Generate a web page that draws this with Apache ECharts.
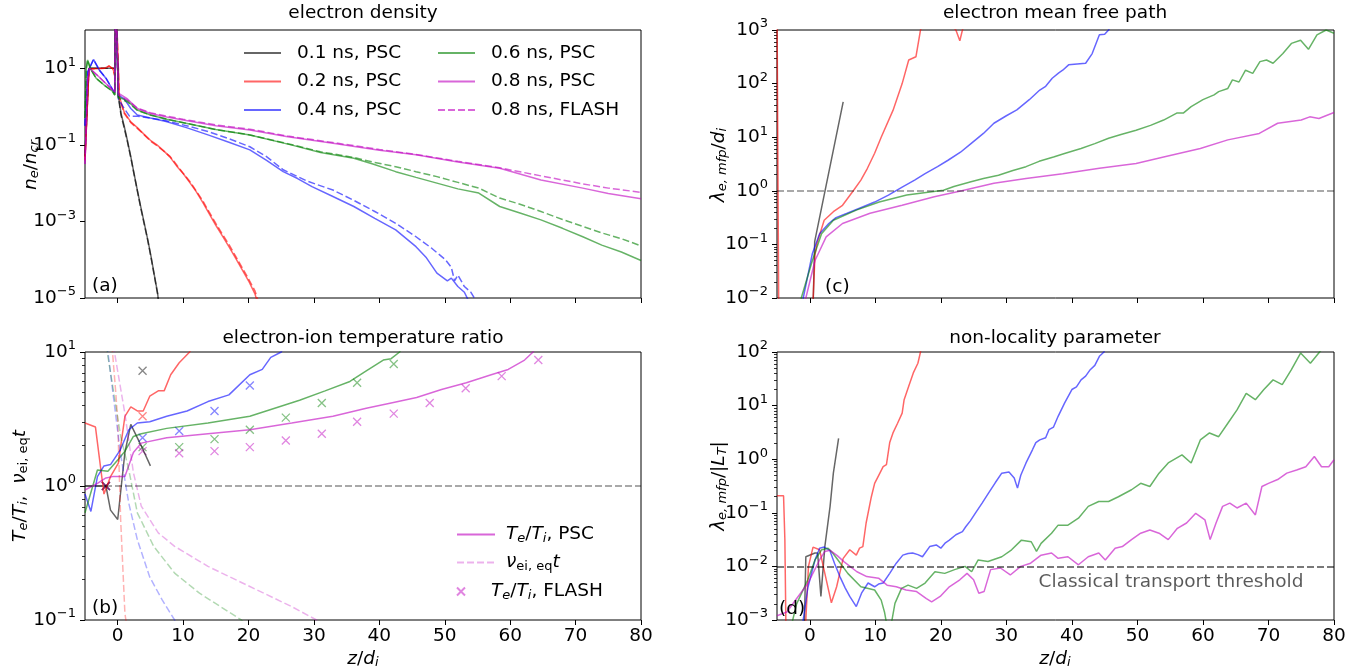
<!DOCTYPE html>
<html><head><meta charset="utf-8">
<script src="https://cdn.jsdelivr.net/npm/echarts@6/dist/echarts.min.js"></script>
<style>html,body{margin:0;padding:0;background:#fff}#c{width:1365px;height:672px}</style>
</head><body><div id="c"></div>
<script>
// All y values are stored as log10 of the plotted quantity; the y axes are
// linear in log10 units and are labelled as powers of ten.
// ---------- tick values ----------
const zTicks = [0, 10, 20, 30, 40, 50, 60, 70, 80];
const densTicks = [-5, -3, -1, 1];          // 1e-5 ... 1e1
const ratioTicks = [-1, 0, 1];              // 1e-1 ... 1e1
const mfpTicks = [-2, -1, 0, 1, 2, 3];      // 1e-2 ... 1e3
const nonlocTicks = [-3, -2, -1, 0, 1, 2];  // 1e-3 ... 1e2

// ---------- (a) electron density n_e/n_cr : [z/d_i, log10(value)] ----------
const dens01_PSC = [[-5,-1.3],[-4.4,1.0],[-0.45,1.0],[-0.3,3],[-0.1,3],[0.1,0.3],[0.5,-0.17],[1.0,-0.52],[1.5,-0.9],[2.0,-1.31],[2.5,-1.75],[3.0,-2.18],[3.5,-2.6],[4.05,-3.04],[4.6,-3.48],[5.1,-3.92],[5.6,-4.4],[6.1,-4.87],[6.3,-5.2]];
const dens01_FLASH = [[-5,-1.3],[-4.4,1.0],[-0.45,1.0],[-0.3,3],[-0.1,3],[0.1,0.25],[0.5,-0.22],[1.0,-0.56],[1.5,-0.93],[2.0,-1.33],[2.5,-1.77],[3.0,-2.2],[3.5,-2.63],[4.05,-3.07],[4.6,-3.5],[5.1,-3.95],[5.6,-4.42],[6.1,-4.9],[6.3,-5.2]];
const dens02_PSC = [[-5,-1.4],[-4.4,0.98],[-2.0,1.0],[-1.3,1.06],[-0.7,0.98],[-0.45,0.8],[-0.3,3],[-0.1,3],[0.25,0.26],[1.0,-0.15],[2.0,-0.4],[3.0,-0.55],[4.0,-0.72],[5.0,-0.88],[6.0,-1.0],[7.0,-1.15],[8.0,-1.32],[9.0,-1.55],[10.0,-1.75],[11.0,-1.98],[12.0,-2.22],[13.0,-2.5],[14.0,-2.8],[15.0,-3.1],[16.0,-3.38],[17.0,-3.66],[18.0,-3.95],[19.0,-4.25],[20.0,-4.55],[21.0,-4.9],[21.5,-5.2]];
const dens02_FLASH = [[-5,-1.4],[-4.4,0.98],[-2.0,1.0],[-1.3,1.06],[-0.7,0.98],[-0.45,0.8],[-0.3,3],[-0.1,3],[0.25,0.22],[1.0,-0.18],[2.0,-0.42],[3.0,-0.57],[4.0,-0.73],[5.0,-0.9],[6.0,-1.02],[7.0,-1.16],[8.0,-1.3],[9.0,-1.52],[10.0,-1.74],[11.0,-1.95],[12.0,-2.2],[13.0,-2.46],[14.0,-2.76],[15.0,-3.05],[16.0,-3.33],[17.0,-3.6],[18.0,-3.9],[19.0,-4.2],[20.0,-4.5],[21.0,-4.82],[21.7,-5.2]];
const dens04_PSC = [[-5,-0.5],[-4.6,0.9],[-3.7,1.23],[-2.8,0.95],[-1.8,0.74],[-0.8,0.45],[-0.45,0.35],[-0.3,3],[-0.1,3],[0.1,0.3],[1.0,0.2],[2.0,-0.05],[3.0,-0.22],[5.0,-0.3],[7.4,-0.39],[10.5,-0.55],[13.8,-0.74],[17,-0.93],[20.2,-1.13],[22.7,-1.4],[25.3,-1.7],[27.5,-1.88],[29.7,-2.09],[32.9,-2.35],[36.1,-2.61],[39.3,-2.92],[42.5,-3.22],[45.6,-3.66],[47.2,-3.95],[48.8,-4.35],[50.4,-4.55],[51,-4.48],[52,-4.7],[53,-4.85],[54,-5.2]];
const dens04_FLASH = [[-5,-0.5],[-4.6,0.9],[-3.7,1.23],[-2.8,0.95],[-1.8,0.74],[-0.8,0.45],[-0.45,0.35],[-0.3,3],[-0.1,3],[0.1,0.2],[1.0,-0.05],[1.8,-0.25],[3.0,-0.25],[5.0,-0.3],[7.4,-0.37],[10.5,-0.5],[13.8,-0.65],[17,-0.84],[20.2,-1.05],[22.7,-1.3],[25.3,-1.65],[29,-1.95],[32.9,-2.18],[36.1,-2.45],[39.3,-2.74],[42.5,-3.05],[45.6,-3.4],[48,-3.7],[50.1,-4.0],[51,-4.2],[51.5,-4.55],[52,-4.4],[53,-4.7],[54,-4.85],[55.2,-5.2]];
const dens06_PSC = [[-5,-0.3],[-4.8,1.0],[-4.6,1.22],[-4.2,1.0],[-3.3,0.74],[-2,0.55],[-0.8,0.4],[-0.45,0.3],[-0.3,3],[-0.1,3],[0.1,0.25],[1.5,0.15],[3.0,-0.09],[5,-0.22],[7.5,-0.33],[10.6,-0.44],[15,-0.6],[20.2,-0.74],[26.5,-1.0],[31,-1.2],[36.1,-1.35],[39,-1.5],[42.5,-1.7],[45.6,-1.85],[48.8,-2.0],[52,-2.15],[55.2,-2.26],[58.4,-2.61],[61.5,-2.78],[64.7,-2.96],[68,-3.18],[71.1,-3.4],[74,-3.62],[77,-3.8],[80,-4.02]];
const dens06_FLASH = [[-5,-0.3],[-4.8,1.0],[-4.6,1.22],[-4.2,1.0],[-3.3,0.74],[-2,0.55],[-0.8,0.4],[-0.45,0.3],[-0.3,3],[-0.1,3],[0.1,0.22],[1.5,0.12],[3.0,-0.1],[5,-0.22],[7.5,-0.33],[10.6,-0.44],[15,-0.6],[20.2,-0.74],[26.5,-0.99],[31,-1.18],[36.1,-1.33],[39,-1.45],[42.5,-1.57],[45.6,-1.7],[48.8,-1.83],[52,-1.98],[55.2,-2.13],[58.4,-2.39],[61.5,-2.55],[64.7,-2.74],[68,-2.95],[71.1,-3.13],[74,-3.3],[77,-3.45],[80,-3.64]];
const dens08_PSC = [[-5,-1.5],[-4.6,0.7],[-4.3,1.0],[-3,0.8],[-1.5,0.55],[-0.45,0.38],[-0.3,3],[-0.1,3],[0.1,0.35],[1.5,0.2],[3.0,-0.05],[5,-0.18],[7.5,-0.27],[10,-0.35],[15,-0.5],[20.2,-0.61],[26,-0.79],[32.9,-0.96],[40,-1.14],[45.6,-1.26],[52,-1.45],[58.4,-1.61],[64.7,-1.92],[71.1,-2.13],[75,-2.27],[80,-2.41]];
const dens08_FLASH = [[-5,-1.5],[-4.6,0.7],[-4.3,1.0],[-3,0.8],[-1.5,0.55],[-0.45,0.38],[-0.3,3],[-0.1,3],[0.1,0.3],[1.5,0.17],[3.0,-0.04],[5,-0.16],[7.5,-0.25],[10,-0.33],[15,-0.48],[20.2,-0.59],[26,-0.77],[32.9,-0.94],[40,-1.12],[45.6,-1.25],[52,-1.43],[58.4,-1.6],[64.7,-1.81],[71.1,-2.02],[75,-2.13],[80,-2.24]];

// ---------- (c) electron mean free path : [z, log10] ----------
const mfp01 = [[0.5,-2.2],[0.75,-0.95],[5.1,1.66]];
const mfp02 = [[-5.0,3.5],[-4.85,3.5],[-4.7,-3],[0.3,-3],[0.45,-2.2],[0.8,-1.2],[1.1,-0.98],[2.2,-0.55],[3.6,-0.39],[5,-0.27],[6.7,0.01],[7.8,0.2],[8.8,0.42],[9.9,0.7],[10.9,1.0],[12.7,1.5],[14.1,2.0],[15.1,2.44],[16.2,2.5],[16.9,3.0],[18,3.3],[20,3.4],[21.5,3.1],[22.3,3.0],[22.9,2.8],[23.4,3.05],[24,3.2],[26,3.5],[30,3.6]];
const mfp04 = [[-1.5,-2.6],[-1.0,-2.0],[0.4,-1.17],[1.5,-0.8],[2.9,-0.61],[4,-0.5],[5.7,-0.42],[7.5,-0.33],[9.9,-0.21],[12,-0.08],[14.1,0.07],[16,0.2],[17.6,0.32],[19.5,0.45],[21.1,0.57],[23,0.72],[24.6,0.88],[26.5,1.07],[28.1,1.26],[30,1.4],[31.6,1.51],[33.5,1.7],[35.1,1.88],[36,1.95],[37,2.1],[38,2.2],[38.6,2.25],[39.5,2.35],[42.1,2.38],[43.1,2.56],[44.2,2.91],[45,2.92],[45.6,3.0],[46.5,3.2]];
const mfp06 = [[-1.8,-2.5],[-1.3,-2.0],[0.4,-1.3],[1.8,-0.8],[3.6,-0.55],[7.1,-0.36],[10.6,-0.21],[14.8,-0.08],[20.4,0.01],[22,0.08],[24.6,0.17],[26.5,0.23],[28.8,0.29],[31,0.38],[33,0.45],[35,0.55],[37.2,0.63],[39,0.7],[41.4,0.79],[43.5,0.88],[45.6,0.98],[47.5,1.05],[49.8,1.13],[52,1.22],[54,1.32],[56,1.45],[57,1.45],[58.2,1.57],[60,1.7],[61.7,1.79],[62.4,1.85],[63.8,1.91],[64.5,2.07],[65.5,2.03],[66.5,2.25],[67.6,2.19],[68.7,2.41],[69.7,2.44],[70.7,2.38],[72.2,2.56],[73.5,2.75],[74.9,2.81],[76.1,2.64],[77.4,2.91],[78.8,3.0],[80,2.94]];
const mfp08 = [[-1.0,-2.5],[-0.6,-2.0],[0.8,-1.3],[2.5,-0.86],[5,-0.61],[9.2,-0.42],[14.1,-0.27],[19,-0.11],[23.2,0.0],[28.1,0.14],[33,0.23],[38.6,0.32],[44.2,0.42],[49.8,0.51],[54,0.63],[59.6,0.79],[63.8,0.95],[68.6,1.07],[71.4,1.26],[75,1.32],[76.3,1.38],[77.7,1.35],[80,1.46]];

// ---------- (b) T_e/T_i (PSC), nu_ei,eq t, T_e/T_i (FLASH) : [z, log10] ----------
const ratio01_PSC = [[-5,0],[-1.8,0],[-1.1,-0.18],[0,-0.25],[1.1,0.25],[2.0,0.46],[3.6,0.3],[5.0,0.15]];
const ratio02_PSC = [[-5,0.47],[-3.4,0.44],[-2.1,-0.06],[-1.1,0.07],[0.1,0.17],[1.1,0.52],[2.0,0.59],[3.0,0.56],[3.9,0.56],[4.9,0.67],[6.2,0.71],[7.1,0.71],[8.1,0.83],[9.4,0.92],[11,1.0],[12,1.1]];
const ratio04_PSC = [[-5,-0.06],[-4.1,-0.19],[-3.1,0.07],[-2.1,0.15],[-1.1,0.16],[0.4,0.27],[1.7,0.42],[3.0,0.47],[4.9,0.48],[7.5,0.52],[10.6,0.56],[13.8,0.63],[17,0.68],[20.2,0.83],[22.1,0.87],[23.4,0.96],[25,1.0],[26,1.1]];
const ratio06_PSC = [[-5,-0.2],[-3.1,0.12],[-1.5,0.11],[0.1,0.2],[1.1,0.26],[2.4,0.37],[3.6,0.39],[7.5,0.43],[13.8,0.47],[20.2,0.52],[24,0.58],[27.8,0.64],[31.7,0.71],[35.5,0.78],[38,0.86],[40.6,0.94],[41.8,0.95],[43.1,1.0],[44,1.1]];
const ratio08_PSC = [[-5,-0.03],[-3.1,0.02],[-1.8,0.06],[-0.8,0.07],[1.1,0.07],[2.4,0.25],[3.6,0.32],[7.5,0.36],[13.8,0.39],[20.2,0.42],[26.6,0.47],[32.9,0.52],[38,0.58],[41.8,0.62],[45.7,0.66],[49.5,0.72],[53.3,0.77],[57.1,0.83],[59.7,0.87],[62.2,0.94],[63.5,1.0],[64.5,1.1]];
const nuT02 = [[-1.0,1.2],[-0.8,1.0],[-0.3,0.7],[0,0.49],[0.45,-0.25],[1.1,-0.95],[1.4,-1.05]];
const nuT04 = [[-1.8,1.2],[-1.5,1.0],[0.4,0.25],[1.7,-0.13],[3.0,-0.4],[4.9,-0.68],[6.8,-0.85],[8.7,-1.0],[9,-1.05]];
const nuT06 = [[-1.9,1.2],[-1.6,1.0],[0.45,0.37],[1.7,0.12],[3,-0.2],[5.5,-0.45],[8.7,-0.65],[12.5,-0.8],[15.7,-0.9],[18.9,-1.0],[19.5,-1.03]];
const nuT08 = [[-0.8,1.2],[-0.5,1.0],[1.1,0.54],[2.4,0.1],[3.6,-0.15],[6.2,-0.35],[8.7,-0.45],[13.8,-0.6],[20.2,-0.75],[26.6,-0.9],[30.4,-1.0],[31,-1.03]];
const ratio01_FLASH = [[-1.8,0],[3.8,0.86]];
const ratio02_FLASH = [[-1.8,0],[3.8,0.52]];
const ratio04_FLASH = [[-1.8,0],[3.8,0.36],[9.4,0.41],[14.8,0.56],[20.2,0.75]];
const ratio06_FLASH = [[-1.8,0],[3.8,0.29],[9.4,0.29],[14.8,0.35],[20.2,0.42],[25.7,0.51],[31.2,0.62],[36.6,0.77],[42.2,0.91]];
const ratio08_FLASH = [[-1.8,0],[3.8,0.26],[9.4,0.245],[14.8,0.26],[20.2,0.29],[25.7,0.34],[31.2,0.39],[36.6,0.48],[42.2,0.54],[47.7,0.62],[53.2,0.73],[58.7,0.82],[64.3,0.94]];

// ---------- (d) non-locality parameter : [z, log10] ----------
const nl01 = [[-0.9,-3.5],[-0.6,-1.82],[0.8,-1.75],[1.2,-1.75],[1.7,-2.56],[2.3,-1.63],[3.1,-0.88],[3.6,-0.26],[4.4,0.39]];
const nl02 = [[-5,-0.68],[-4.0,-0.68],[-3.8,-1.5],[-3.6,-3.5],[-0.8,-3.5],[-0.6,-3.0],[-0.2,-2.0],[0.5,-1.64],[1.5,-1.69],[2.3,-2.13],[3.3,-2.68],[4.1,-2.38],[5.1,-1.85],[6.1,-1.69],[7.1,-1.79],[7.6,-1.66],[8.1,-1.63],[8.6,-1.19],[9.4,-0.7],[9.9,-0.45],[10.7,-0.26],[11.2,-0.14],[11.7,-0.1],[12.2,0.31],[12.7,0.49],[13.4,0.67],[14.1,0.86],[14.4,1.11],[15.1,1.36],[15.8,1.61],[16.5,1.79],[16.9,2.0],[17.3,2.3]];
const nl04 = [[-2,-3.5],[-1.0,-3.0],[-0.3,-2.4],[0.8,-1.88],[1.5,-1.66],[2.2,-1.64],[3.05,-1.7],[3.8,-1.95],[4.6,-2.19],[5.4,-2.4],[6.1,-2.56],[7.1,-2.75],[7.9,-2.5],[8.9,-2.31],[9.9,-2.38],[10.5,-2.33],[11.2,-2.31],[12.2,-2.13],[13.2,-1.94],[14.2,-1.79],[15.0,-1.76],[15.7,-1.75],[16.5,-1.78],[17.2,-1.82],[18.3,-1.63],[19.3,-1.6],[20.0,-1.66],[20.7,-1.56],[21.3,-1.51],[22.3,-1.41],[23.3,-1.35],[23.8,-1.26],[24.5,-1.15],[25.3,-1.0],[26.3,-0.82],[27.3,-0.63],[28.3,-0.44],[29.3,-0.26],[30.4,-0.24],[31.2,-0.35],[31.7,-0.54],[32.2,-0.3],[33.0,-0.07],[34.0,0.18],[34.5,0.31],[35.1,0.36],[36.0,0.4],[36.5,0.55],[37.2,0.6],[37.9,0.8],[38.9,1.05],[40,1.3],[40.7,1.35],[41.4,1.48],[42.1,1.55],[42.8,1.67],[43.5,1.75],[44.2,1.92],[44.9,2.0],[45.3,2.2]];
const nl06 = [[-3,-3.2],[-2,-2.7],[-0.3,-2.25],[0.8,-1.88],[1.8,-1.69],[2.8,-1.66],[3.5,-1.75],[4.3,-1.88],[5.8,-2.13],[7.8,-2.38],[9.9,-2.44],[10.9,-2.63],[11.4,-2.85],[11.7,-3.05],[12.4,-3.1],[13.0,-2.69],[14.0,-2.41],[15.0,-2.35],[16.3,-2.41],[17.6,-2.31],[19.1,-2.1],[20.6,-2.13],[22.1,-2.06],[23.7,-2.0],[24.7,-2.1],[25.7,-1.88],[27.2,-1.91],[29.3,-1.82],[30.8,-1.69],[32.3,-1.51],[33.8,-1.54],[34.6,-1.72],[35.3,-1.57],[36.9,-1.38],[37.9,-1.23],[39.4,-1.23],[41.0,-1.1],[42.5,-0.88],[44.1,-0.79],[45.6,-0.79],[47.1,-0.7],[49.1,-0.57],[50.5,-0.45],[51.9,-0.51],[53.3,-0.26],[54.7,-0.07],[56.8,0.08],[58.2,-0.07],[59.6,0.36],[61,0.49],[62.4,0.42],[63.8,0.67],[65.2,0.92],[66.6,1.23],[68,1.11],[69.3,1.3],[70.7,1.48],[72.1,1.39],[73.5,1.67],[74.9,1.98],[76.4,1.79],[77.8,2.0],[78.5,2.1]];
const nl08 = [[-5,-2.92],[-3.5,-2.85],[-2,-2.6],[-0.3,-2.32],[1.5,-1.88],[2.3,-1.72],[3.1,-1.7],[4.2,-1.8],[5.2,-1.91],[7.2,-2.1],[8.7,-2.19],[10.5,-2.22],[11.8,-2.35],[13.2,-2.38],[14.7,-2.44],[16.3,-2.47],[17.8,-2.6],[18.6,-2.66],[19.9,-2.56],[21.3,-2.38],[22.9,-2.25],[24.0,-2.13],[25.0,-2.25],[25.8,-2.5],[26.6,-2.47],[27.6,-2.06],[29.1,-2.03],[30.6,-2.16],[32.2,-2.0],[33.7,-1.94],[35.3,-1.79],[36.9,-1.75],[37.9,-1.85],[39.4,-1.82],[41.0,-1.97],[42.5,-1.82],[44.1,-1.75],[45.1,-1.88],[46.6,-1.66],[47.7,-1.63],[49.1,-1.5],[50.5,-1.38],[51.9,-1.32],[53.3,-1.38],[54.7,-1.5],[56.1,-1.29],[57.5,-1.19],[58.9,-1.01],[60.3,-1.13],[61.1,-1.5],[62,-1.19],[63,-0.88],[64.1,-0.82],[65.2,-0.91],[66.6,-0.82],[68,-1.04],[69,-0.51],[70,-0.45],[71.4,-0.38],[72.8,-0.26],[74.3,-0.2],[75.7,-0.14],[77,0.05],[78.1,-0.14],[79.2,-0.14],[80,-0.01]];

// ---------- styling ----------
const FF = 'DejaVu Sans';
const FS = 18.5;
const COL = {k:'rgba(0,0,0,0.6)', r:'rgba(255,0,0,0.6)', b:'rgba(0,0,255,0.6)', g:'rgba(0,128,0,0.6)', m:'rgba(191,0,191,0.6)'};
const LIGHT = {k:'rgba(0,0,0,0.3)', r:'rgba(255,0,0,0.3)', b:'rgba(0,0,255,0.3)', g:'rgba(0,128,0,0.3)', m:'rgba(191,0,191,0.3)'};
const DASH = [7, 3];

const RICH = {
  n: {fontFamily: FF, fontSize: FS, lineHeight: 22},
  i: {fontFamily: FF, fontSize: FS, fontStyle: 'italic', lineHeight: 22},
  sb: {fontFamily: FF, fontSize: 13, fontStyle: 'italic', lineHeight: 14, padding: [8, 0, 0, 0]},
  sbn: {fontFamily: FF, fontSize: 13, lineHeight: 14, padding: [8, 0, 0, 0]},
  b: {fontFamily: FF, fontSize: FS, lineHeight: 22},
  s: {fontFamily: FF, fontSize: 13, lineHeight: 14, padding: [0, 0, 12, 0]}
};

function fmtExp(v) {
  const e = Math.round(v);
  return '{b|10}{s|' + (e < 0 ? '\u2212' + (-e) : '' + e) + '}';
}
// minor tick positions (log10 of 2..9 x 10^k) for decades k0..k1-1
function minors(k0, k1) {
  const o = [];
  for (let k = k0; k < k1; k++) for (let m = 2; m <= 9; m++) o.push(k + Math.log10(m));
  return o;
}

// grids: 0 = (a), 1 = (b), 2 = (c), 3 = (d)
const GRID = [
  {left: 85, top: 30, width: 556, height: 268},
  {left: 85, top: 352, width: 556, height: 268},
  {left: 777, top: 30, width: 557, height: 268},
  {left: 777, top: 352, width: 557, height: 268}
];
const grids = GRID.map(g => Object.assign({}, g, {show: true, borderColor: '#000', borderWidth: 1, backgroundColor: 'transparent'}));

const xAxes = [0, 1, 2, 3].map(gi => ({
  type: 'value', gridIndex: gi, min: -5, max: 80,
  axisLine: {show: false, onZero: false}, splitLine: {show: false},
  axisTick: {show: true, customValues: zTicks, length: 5, lineStyle: {color: '#000', width: 1}},
  axisLabel: {show: gi === 1 || gi === 3, customValues: zTicks, fontFamily: FF, fontSize: FS, color: '#000', margin: 7}
}));

function yMain(gi, min, max, ticks) {
  return {
    type: 'value', gridIndex: gi, min: min, max: max, position: 'left',
    axisLine: {show: false, onZero: false}, splitLine: {show: false},
    axisTick: {show: true, customValues: ticks, length: 5, lineStyle: {color: '#000', width: 1}},
    axisLabel: {customValues: ticks, margin: 9, color: '#000', formatter: fmtExp, rich: RICH}
  };
}
// second axis of a grid is placed on the right by ECharts; shift it back onto the left edge
function yMinor(gi, min, max, k0, k1) {
  return {
    type: 'value', gridIndex: gi, min: min, max: max, position: 'right', offset: -GRID[gi].width,
    axisLine: {show: false, onZero: false}, splitLine: {show: false},
    axisLabel: {show: false, customValues: minors(k0, k1)},
    axisTick: {show: true, inside: true, customValues: minors(k0, k1), length: 3, lineStyle: {color: '#000', width: 0.8}}
  };
}
const yAxes = [
  yMain(0, -5, 2, densTicks),
  yMain(1, -1, 1, ratioTicks),
  yMain(2, -2, 3, mfpTicks),
  yMain(3, -3, 2, nonlocTicks),
  yMinor(1, -1, 1, -1, 1),
  yMinor(2, -2, 3, -2, 3),
  yMinor(3, -3, 2, -3, 2)
];

function line(name, arr, color, gi, dashed, extra) {
  return Object.assign({
    type: 'line', name: name, xAxisIndex: gi, yAxisIndex: gi, data: arr,
    symbol: 'none', showSymbol: false, clip: true, silent: true,
    lineStyle: {color: color, width: 1.5, type: dashed ? DASH : 'solid'},
    itemStyle: {color: color}
  }, extra || {});
}
function marks(name, arr, color) {
  return {
    type: 'scatter', name: name, xAxisIndex: 1, yAxisIndex: 1, data: arr,
    symbol: 'path://M0,0L10,10M10,0L0,10', symbolSize: 8, silent: true,
    itemStyle: {color: 'rgba(0,0,0,0)', borderColor: color, borderWidth: 1.3}
  };
}
function hline(y, color) {
  return {silent: true, symbol: 'none', label: {show: false},
    lineStyle: {color: color, type: DASH, width: 1.5}, data: [{yAxis: y}]};
}

const series = [
  // (a)
  line('0.1 ns, PSC', dens01_PSC, COL.k, 0, false),
  line('a01F', dens01_FLASH, COL.k, 0, true),
  line('0.2 ns, PSC', dens02_PSC, COL.r, 0, false),
  line('a02F', dens02_FLASH, COL.r, 0, true),
  line('0.4 ns, PSC', dens04_PSC, COL.b, 0, false),
  line('a04F', dens04_FLASH, COL.b, 0, true),
  line('0.6 ns, PSC', dens06_PSC, COL.g, 0, false),
  line('a06F', dens06_FLASH, COL.g, 0, true),
  line('0.8 ns, PSC', dens08_PSC, COL.m, 0, false),
  line('0.8 ns, FLASH', dens08_FLASH, COL.m, 0, true),
  // (b)
  line('b01', ratio01_PSC, COL.k, 1, false, {markLine: hline(0, 'rgba(0,0,0,0.45)')}),
  line('b02', ratio02_PSC, COL.r, 1, false),
  line('b04', ratio04_PSC, COL.b, 1, false),
  line('b06', ratio06_PSC, COL.g, 1, false),
  line('bTePSC', ratio08_PSC, COL.m, 1, false),
  line('b02n', nuT02, LIGHT.r, 1, true),
  line('b04n', nuT04, LIGHT.b, 1, true),
  line('b06n', nuT06, LIGHT.g, 1, true),
  line('bNu', nuT08, LIGHT.m, 1, true),
  marks('b01x', ratio01_FLASH, COL.k),
  marks('b02x', ratio02_FLASH, COL.r),
  marks('b04x', ratio04_FLASH, COL.b),
  marks('b06x', ratio06_FLASH, COL.g),
  marks('bTeFLASH', ratio08_FLASH, COL.m),
  // (c)
  line('c01', mfp01, COL.k, 2, false, {markLine: hline(0, 'rgba(0,0,0,0.45)')}),
  line('c02', mfp02, COL.r, 2, false),
  line('c04', mfp04, COL.b, 2, false),
  line('c06', mfp06, COL.g, 2, false),
  line('c08', mfp08, COL.m, 2, false),
  // (d)
  line('d01', nl01, COL.k, 3, false, {markLine: hline(-2, 'rgba(0,0,0,0.7)')}),
  line('d02', nl02, COL.r, 3, false),
  line('d04', nl04, COL.b, 3, false),
  line('d06', nl06, COL.g, 3, false),
  line('d08', nl08, COL.m, 3, false)
];

const LEG_TEXT = {
  'bTePSC': '{i|T}{sb|e}{n|/}{i|T}{sb|i}{n|, PSC}',
  'bNu': '{i|\u03bd}{sbn|ei, eq}{i|t}',
  'bTeFLASH': '{i|T}{sb|e}{n|/}{i|T}{sb|i}{n|, FLASH}'
};
const HIDE_SYMBOL = {color: 'rgba(0,0,0,0)', borderWidth: 0, opacity: 0};
function legendBase(extra) {
  return Object.assign({
    orient: 'vertical', padding: 0, itemWidth: 37, itemHeight: 14, itemGap: 8.5, selectedMode: false,
    itemStyle: HIDE_SYMBOL,
    textStyle: {fontFamily: FF, fontSize: FS, color: '#000', lineHeight: 20, padding: [0, 0, 0, 11]}
  }, extra);
}
const legends = [
  legendBase({left: 243, top: 43, data: ['0.1 ns, PSC', '0.2 ns, PSC', '0.4 ns, PSC']}),
  legendBase({left: 437, top: 43, data: ['0.6 ns, PSC', '0.8 ns, PSC', '0.8 ns, FLASH']}),
  legendBase({left: 456, top: 524, itemWidth: 38, data: ['bTePSC'], formatter: n => LEG_TEXT[n],
    textStyle: {color: '#000', padding: [0, 0, 0, 6], rich: RICH}}),
  legendBase({left: 456, top: 552, itemWidth: 38, data: ['bNu'], formatter: n => LEG_TEXT[n],
    textStyle: {color: '#000', padding: [0, 0, 0, 6], rich: RICH}}),
  legendBase({left: 456, top: 581, itemWidth: 38, itemHeight: 8, data: ['bTeFLASH'], formatter: n => LEG_TEXT[n],
    itemStyle: {}, textStyle: {color: '#000', padding: [0, 0, 0, 6], rich: RICH}})
];

function txt(x, y, text, extra, rot) {
  return {type: 'text', x: x, y: y, rotation: rot || 0, silent: true, z: 100,
    style: Object.assign({text: text, fontFamily: FF, fontSize: FS, fill: '#000', align: 'center', verticalAlign: 'middle', rich: RICH}, extra || {})};
}
const R90 = Math.PI / 2;
const graphics = [
  txt(363, 13, 'electron density'),
  txt(1055, 13, 'electron mean free path'),
  txt(363, 338, 'electron-ion temperature ratio'),
  txt(1055, 338, 'non-locality parameter'),
  txt(31, 165, '{i|n}{sb|e}{n|/}{i|n}{sb|cr}', null, R90),
  txt(20, 486, '{i|T}{sb|e}{n|/}{i|T}{sb|i}{n|,  }{i|\u03bd}{sbn|ei, eq}{i|t}', null, R90),
  txt(719, 165, '{i|\u03bb}{sb|e, mfp}{n|/}{i|d}{sb|i}', null, R90),
  txt(719, 486, '{i|\u03bb}{sb|e, mfp}{n|/|}{i|L}{sb|T}{n||}', null, R90),
  txt(363, 659, '{i|z}{n|/}{i|d}{sb|i}'),
  txt(1055, 659, '{i|z}{n|/}{i|d}{sb|i}'),
  txt(92, 286, '(a)', {align: 'left'}),
  txt(92, 608, '(b)', {align: 'left'}),
  txt(825, 287, '(c)', {align: 'left'}),
  txt(779, 609, '(d)', {align: 'left'}),
  txt(1171, 582, 'Classical transport threshold', {fill: 'rgba(0,0,0,0.65)'})
];

const chart = echarts.init(document.getElementById('c'), null, {renderer: 'canvas'});
chart.setOption({
  animation: false,
  backgroundColor: '#fff',
  grid: grids, xAxis: xAxes, yAxis: yAxes,
  legend: legends, series: series, graphic: graphics
});
</script></body></html>
